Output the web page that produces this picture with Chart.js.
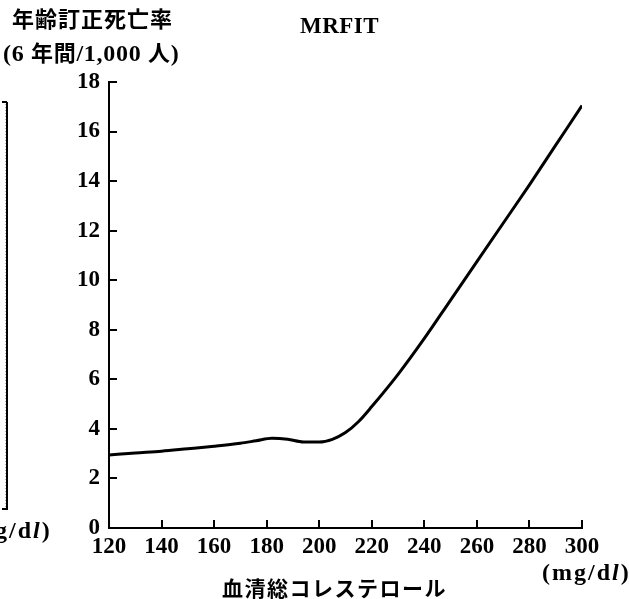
<!DOCTYPE html>
<html>
<head>
<meta charset="utf-8">
<script src="https://cdn.jsdelivr.net/npm/chart.js@4/dist/chart.umd.min.js"></script>
<style>
  html, body { margin: 0; padding: 0; background: #fff; }
  #wrap { position: relative; width: 629px; height: 599px; overflow: hidden; background: #fff; }
  canvas { position: absolute; left: 0; top: 0; }
  .t { position: absolute; white-space: nowrap; color: #000; line-height: 1; }
  .serif { font-family: "Liberation Serif", "Noto Sans CJK JP", serif; }
  .cjk { font-family: "Noto Sans CJK JP", sans-serif; }
</style>
</head>
<body>
<div id="wrap">
  <canvas id="c" width="629" height="599"></canvas>
  <div class="t cjk" style="left:12px; top:6px; font-size:22px; font-weight:700; letter-spacing:1px;">年齢訂正死亡率</div>
  <div class="t serif" style="left:3px; top:40px; font-size:24px; font-weight:700; letter-spacing:0.7px;">(6 <span class="cjk" style="font-size:22px;">年間</span>/1,000 <span class="cjk" style="font-size:22px;">人</span>)</div>
  <div class="t serif" style="left:300px; top:14px; font-size:23px; font-weight:700; letter-spacing:0.5px;">MRFIT</div>
  <div class="t cjk" style="left:222px; top:577px; font-size:21px; font-weight:700; letter-spacing:1.5px;">血清総コレステロール</div>
  <div class="t serif" style="left:542px; top:560px; font-size:24px; font-weight:700; letter-spacing:2px;">(mg/d<i>l</i>)</div>
  <div class="t serif" style="left:-37px; top:518px; font-size:24px; font-weight:700; letter-spacing:2px;">(mg/d<i>l</i>)</div>
</div>
<script>
// ---- data ----
const cholesterol = [120,130,140,150,160,170,176,182,188,194,200,205,210,215,220,230,240,250,260,270,280,290,300];
const mortality   = [2.95,3.03,3.1,3.2,3.3,3.42,3.52,3.62,3.58,3.47,3.47,3.58,3.85,4.3,4.9,6.2,7.65,9.2,10.75,12.3,13.85,15.45,17.05];
const xTicks = [120,140,160,180,200,220,240,260,280,300];
const yTicks = [0,2,4,6,8,10,12,14,16,18];

const points = cholesterol.map((x, i) => ({ x: x, y: mortality[i] }));

const tickFont = { family: "Liberation Serif", size: 23, weight: "bold" };

const inwardTicks = {
  id: 'inwardTicks',
  afterDraw(chart) {
    const ctx = chart.ctx;
    const xs = chart.scales.x, ys = chart.scales.y;
    const area = chart.chartArea;
    ctx.save();
    ctx.strokeStyle = '#000';
    ctx.lineWidth = 2;
    ctx.beginPath();
    yTicks.forEach(v => {
      const py = Math.round(ys.getPixelForValue(v));
      if (v === 0) return;
      ctx.moveTo(area.left, py);
      ctx.lineTo(area.left + 8, py);
    });
    xTicks.forEach(v => {
      const px = Math.round(xs.getPixelForValue(v));
      if (v === 120) return;
      ctx.moveTo(px, area.bottom);
      ctx.lineTo(px, area.bottom - 8);
    });
    ctx.stroke();
    // partial neighbouring panel at left edge
    ctx.beginPath();
    ctx.moveTo(2, 102); ctx.lineTo(7, 102);
    ctx.moveTo(7, 102); ctx.lineTo(7, 509);
    ctx.lineTo(2, 509);
    ctx.stroke();
    ctx.fillStyle = '#aaa';
    for (let y = 104; y < 507; y += 3) {
      ctx.fillRect(3 + ((y * 7) % 3), y, 1, 1);
    }
    ctx.restore();
  }
};

new Chart(document.getElementById('c'), {
  type: 'line',
  data: {
    datasets: [{
      data: points,
      borderColor: '#000',
      borderWidth: 3,
      pointRadius: 0,
      fill: false,
      cubicInterpolationMode: 'monotone',
      tension: 0.4
    }]
  },
  options: {
    responsive: false,
    animation: false,
    devicePixelRatio: 1,
    layout: { padding: { top: 82, right: 47, left: 0, bottom: 0 } },
    plugins: { legend: { display: false }, tooltip: { enabled: false }, title: { display: false } },
    scales: {
      x: {
        type: 'linear',
        min: 120, max: 300,
        afterBuildTicks: s => { s.ticks = xTicks.map(v => ({ value: v })); },
        ticks: { font: tickFont, color: '#000', padding: 5, maxRotation: 0, autoSkip: false },
        grid: { display: false, drawTicks: false },
        border: { display: true, color: '#000', width: 2 },
        afterFit: s => { s.height = 71; }
      },
      y: {
        type: 'linear',
        min: 0, max: 18,
        afterBuildTicks: s => { s.ticks = yTicks.map(v => ({ value: v })); },
        ticks: { font: tickFont, color: '#000', padding: 9, autoSkip: false },
        grid: { display: false, drawTicks: false },
        border: { display: true, color: '#000', width: 2 },
        afterFit: s => { s.width = 109; }
      }
    }
  },
  plugins: [inwardTicks]
});
</script>
</body>
</html>
